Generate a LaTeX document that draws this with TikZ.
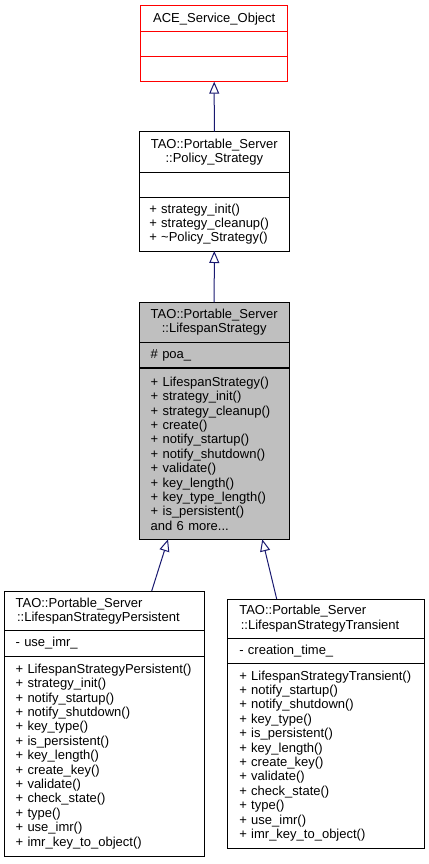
\documentclass[tikz,border=0pt]{standalone}
\usepackage{fontspec}
\setmainfont{Liberation Sans}
\usetikzlibrary{arrows.meta,positioning}
\definecolor{edgeblue}{HTML}{191970}
\definecolor{focusgray}{HTML}{BFBFBF}
\tikzset{
	part/.style={draw, line width=1pt, outer sep=0pt, inner ysep=0pt, align=left,
		font=\fontsize{13}{14.4}\selectfont},
	inherit/.style={draw=edgeblue, line width=1pt, -{Triangle[open, length=12pt, width=10pt]}}
}
\begin{document}
\begin{tikzpicture}[x=1pt, y=-1pt]
		\useasboundingbox (0,0) rectangle (428,864);
		% ACE_Service_Object
		\node[part, draw=red, anchor=north, text width=127pt, inner xsep=10pt, minimum height=26pt, align=center] (aceHead) at (214.2,5.7) {ACE\_Service\_Object};
		\node[part, draw=red, text width=127pt, inner xsep=10pt, minimum height=25pt, below=0pt of aceHead] (aceAttr) {};
		\node[part, draw=red, text width=127pt, inner xsep=10pt, minimum height=25pt, below=0pt of aceAttr] (aceOps) {};
		% Policy_Strategy
		\node[part, anchor=north, text width=130pt, inner xsep=10pt, minimum height=40.3pt, align=center] (polHead) at (214.3,131.7) {TAO::Portable\_Server\\::Policy\_Strategy};
		\node[part, text width=130pt, inner xsep=10pt, minimum height=25.3pt, below=0pt of polHead] (polAttr) {};
		\node[part, text width=130pt, inner xsep=10pt, minimum height=53.7pt, below=0pt of polAttr] (polOps) {+ strategy\_init()\\+ strategy\_cleanup()\\+ \textasciitilde Policy\_Strategy()};
		% LifespanStrategy
		\node[part, fill=focusgray, line width=1.3pt, anchor=north, text width=127pt, inner xsep=11.5pt, minimum height=40pt, align=center] (lsHead) at (214.2,302.3) {TAO::Portable\_Server\\::LifespanStrategy};
		\node[part, fill=focusgray, line width=1.3pt, text width=127pt, inner xsep=11.5pt, minimum height=25.7pt, below=0pt of lsHead] (lsAttr) {\# poa\_};
		\node[part, fill=focusgray, line width=1.3pt, text width=127pt, inner xsep=11.5pt, minimum height=171.3pt, below=0pt of lsAttr] (lsOps) {+ LifespanStrategy()\\+ strategy\_init()\\+ strategy\_cleanup()\\+ create()\\+ notify\_startup()\\+ notify\_shutdown()\\+ validate()\\+ key\_length()\\+ key\_type\_length()\\+ is\_persistent()\\and 6 more...};
		% LifespanStrategyPersistent
		\node[part, anchor=north, text width=177.4pt, inner xsep=11.3pt, minimum height=39.7pt] (perHead) at (104.3,591) {TAO::Portable\_Server\\\hspace*{1.5pt}::LifespanStrategyPersistent};
		\node[part, text width=177.4pt, inner xsep=11.3pt, minimum height=25.3pt, below=0pt of perHead] (perAttr) {- use\_imr\_};
		\node[part, text width=177.4pt, inner xsep=11.3pt, minimum height=200.7pt, below=0pt of perAttr] (perOps) {+ LifespanStrategyPersistent()\\+ strategy\_init()\\+ notify\_startup()\\+ notify\_shutdown()\\+ key\_type()\\+ is\_persistent()\\+ key\_length()\\+ create\_key()\\+ validate()\\+ check\_state()\\+ type()\\+ use\_imr()\\+ imr\_key\_to\_object()};
		% LifespanStrategyTransient
		\node[part, anchor=north, text width=173pt, inner xsep=12pt, minimum height=39.3pt] (trHead) at (325.8,599) {TAO::Portable\_Server\\\hspace*{1.5pt}::LifespanStrategyTransient};
		\node[part, text width=173pt, inner xsep=12pt, minimum height=25pt, below=0pt of trHead] (trAttr) {- creation\_time\_};
		\node[part, text width=173pt, inner xsep=12pt, minimum height=185.4pt, below=0pt of trAttr] (trOps) {+ LifespanStrategyTransient()\\+ notify\_startup()\\+ notify\_shutdown()\\+ key\_type()\\+ is\_persistent()\\+ key\_length()\\+ create\_key()\\+ validate()\\+ check\_state()\\+ type()\\+ use\_imr()\\+ imr\_key\_to\_object()};
		% inheritance
		\draw[inherit] (polHead.north) -- (aceOps.south);
		\draw[inherit] (lsHead.north) -- (polOps.south);
		\draw[inherit] ([xshift=47.4pt]perHead.north) -- ([xshift=-46.2pt]lsOps.south);
		\draw[inherit] ([xshift=-49.1pt]trHead.north) -- ([xshift=48.1pt]lsOps.south);
	\end{tikzpicture}
\end{document}
